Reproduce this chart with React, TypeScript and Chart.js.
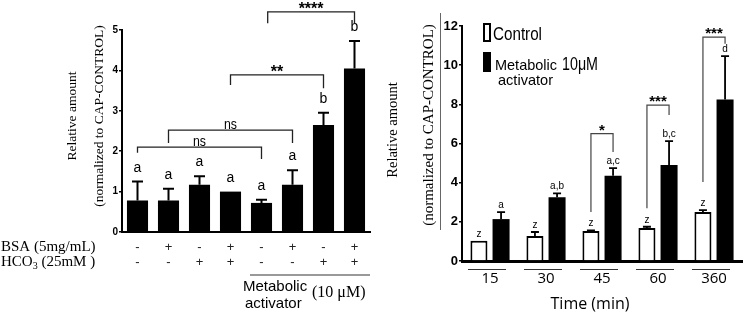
import React, { useEffect, useRef } from 'react';
import { Chart, registerables } from 'chart.js';
Chart.register(...registerables);

const SANS = "'Liberation Sans', Arial, sans-serif";
const SERIF = "'Liberation Serif', 'Times New Roman', serif";
const OPEN = "'Open Sans', 'Liberation Sans', sans-serif";

// ---------- Left panel data ----------
const bsaRow = ['-', '+', '-', '+', '-', '+', '-', '+'];
const hco3Row = ['-', '-', '+', '+', '-', '-', '+', '+'];
const leftValues = [0.78, 0.78, 1.17, 1.0, 0.72, 1.17, 2.65, 4.05];
const leftErrors = [0.47, 0.29, 0.21, 0, 0.08, 0.36, 0.3, 0.68];
const leftLetters = ['a', 'a', 'a', 'a', 'a', 'a', 'b', 'b'];
const leftBrackets = [
  { from: 0, to: 4, top: 2.1, leftEnd: 1.96, rightEnd: 1.81, label: 'ns' },
  { from: 1, to: 5, top: 2.52, leftEnd: 2.2, rightEnd: 2.2, label: 'ns' },
  { from: 3, to: 6, top: 3.89, leftEnd: 3.64, rightEnd: 3.56, label: '**' },
  { from: 4.2, to: 7, top: 5.45, leftEnd: 5.17, rightEnd: 5.17, label: '****' },
];

// ---------- Right panel data ----------
const timeLabels = ['15', '30', '45', '60', '360'];
const controlValues = [1.04, 1.28, 1.53, 1.68, 2.5];
const controlErrors = [0, 0.2, 0.03, 0.07, 0.1];
const activatorValues = [2.14, 3.25, 4.35, 4.9, 8.25];
const activatorErrors = [0.36, 0.2, 0.39, 1.22, 2.21];
const controlLetters = ['z', 'z', 'z', 'z', 'z'];
const activatorLetters = ['a', 'a,b', 'a,c', 'b,c', 'd'];
const rightBrackets = [
  { group: 2, top: 6.5, leftEnd: 2.5, rightEnd: 5.57, label: '*' },
  { group: 3, top: 7.96, leftEnd: 2.7, rightEnd: 7.45, label: '***' },
  { group: 4, top: 11.43, leftEnd: 4.03, rightEnd: 11.1, label: '***' },
];

function rotatedText(ctx: any, text: string, x: number, y: number, font: string) {
  ctx.save();
  ctx.translate(x, y);
  ctx.rotate(-Math.PI / 2);
  ctx.font = font;
  ctx.fillStyle = '#000';
  ctx.textAlign = 'center';
  ctx.textBaseline = 'middle';
  ctx.fillText(text, 0, 0);
  ctx.restore();
}

const whiteBg = {
  id: 'whiteBg',
  beforeDraw(chart: any) {
    const ctx = chart.ctx;
    ctx.save();
    ctx.fillStyle = '#fff';
    ctx.fillRect(0, 0, chart.width, chart.height);
    ctx.restore();
  },
};

function errorPlugin(errs: number[][], letters: string[][], cap: number, lw: number, letterFont: string, letterGap: number) {
  return {
    id: 'errs',
    afterDatasetsDraw(chart: any) {
      const ctx = chart.ctx;
      const ys = chart.scales.y;
      chart.data.datasets.forEach((ds: any, di: number) => {
        const meta = chart.getDatasetMeta(di);
        meta.data.forEach((bar: any, i: number) => {
          const p = bar.getProps(['x', 'y'], true);
          const e = errs[di][i];
          const top = ys.getPixelForValue(ds.data[i] + e);
          ctx.save();
          ctx.strokeStyle = '#000';
          ctx.lineWidth = lw;
          if (e > 0) {
            ctx.beginPath();
            ctx.moveTo(p.x, p.y);
            ctx.lineTo(p.x, top);
            ctx.moveTo(p.x - cap / 2, top);
            ctx.lineTo(p.x + cap / 2, top);
            ctx.stroke();
          }
          ctx.fillStyle = '#000';
          ctx.font = letterFont;
          ctx.textAlign = 'center';
          ctx.textBaseline = 'alphabetic';
          ctx.fillText(letters[di][i], p.x, top - letterGap);
          ctx.restore();
        });
      });
    },
  };
}

const leftExtras = {
  id: 'leftExtras',
  afterDraw(chart: any) {
    const ctx = chart.ctx;
    const xs = chart.scales.x;
    const ys = chart.scales.y;
    rotatedText(ctx, 'Relative amount', 72.5, 116, `13.5px ${SERIF}`);
    rotatedText(ctx, '(normalized to CAP-CONTROL)', 99.5, 116, `13.5px ${SERIF}`);

    ctx.save();
    ctx.fillStyle = '#000';
    ctx.textBaseline = 'middle';
    ctx.textAlign = 'left';
    ctx.font = `15px ${SERIF}`;
    ctx.fillText('BSA (5mg/mL)', 1, 247);
    ctx.fillText('HCO', 1, 262);
    let w = ctx.measureText('HCO').width;
    ctx.font = `10px ${SERIF}`;
    ctx.fillText('3', 1 + w, 266);
    const w3 = ctx.measureText('3').width;
    ctx.font = `15px ${SERIF}`;
    ctx.fillText(' (25mM )', 1 + w + w3, 262);

    // metabolic activator bracket line
    const half = (xs.getPixelForValue(1) - xs.getPixelForValue(0)) / 2;
    ctx.strokeStyle = '#777';
    ctx.lineWidth = 1.5;
    ctx.beginPath();
    ctx.moveTo(xs.getPixelForValue(4) - half + 4, 275);
    ctx.lineTo(chart.chartArea.right, 275);
    ctx.stroke();
    ctx.font = `15px ${SANS}`;
    ctx.textBaseline = 'alphabetic';
    ctx.fillText('Metabolic', 243, 291);
    ctx.fillText('activator', 245, 308);
    ctx.font = `16px ${SERIF}`;
    ctx.fillText('(10 \u03bcM)', 312, 297);

    // significance brackets
    ctx.strokeStyle = '#222';
    ctx.lineWidth = 1.3;
    leftBrackets.forEach((b) => {
      const x1 = xs.getPixelForValue(b.from);
      const x2 = xs.getPixelForValue(b.to);
      const yt = ys.getPixelForValue(b.top);
      ctx.beginPath();
      ctx.moveTo(x1, ys.getPixelForValue(b.leftEnd));
      ctx.lineTo(x1, yt);
      ctx.lineTo(x2, yt);
      ctx.lineTo(x2, ys.getPixelForValue(b.rightEnd));
      ctx.stroke();
      ctx.textAlign = 'center';
      if (b.label === 'ns') {
        ctx.font = `14px ${SANS}`;
        ctx.fillText(b.label, (x1 + x2) / 2, yt - 1, 13);
      } else {
        ctx.font = `bold 16px ${SANS}`;
        ctx.fillText(b.label, (x1 + x2) / 2, yt + 2);
      }
    });
    ctx.restore();
  },
};

const rightExtras = {
  id: 'rightExtras',
  afterDraw(chart: any) {
    const ctx = chart.ctx;
    const xs = chart.scales.x;
    const ys = chart.scales.y;
    rotatedText(ctx, 'Relative amount', 13, 130, `14.5px ${SERIF}`);
    rotatedText(ctx, '(normalized to CAP-CONTROL)', 49, 125, `15px ${SERIF}`);

    ctx.save();
    // thin vertical rule
    ctx.strokeStyle = '#666';
    ctx.lineWidth = 1;
    ctx.beginPath();
    ctx.moveTo(60.5, 13);
    ctx.lineTo(60.5, 230);
    ctx.stroke();

    // legend
    ctx.strokeStyle = '#000';
    ctx.lineWidth = 2;
    ctx.fillStyle = '#fff';
    ctx.fillRect(104, 24, 6, 17);
    ctx.strokeRect(104, 24, 6, 17);
    ctx.fillStyle = '#000';
    ctx.fillRect(103, 52, 8, 20);
    ctx.textAlign = 'left';
    ctx.textBaseline = 'alphabetic';
    ctx.font = `18px ${SANS}`;
    ctx.fillText('Control', 113, 40, 49);
    ctx.fillText('10\u03bcM', 182, 70, 36);
    ctx.font = `15px ${SANS}`;
    ctx.fillText('Metabolic', 115, 70, 62);
    ctx.fillText('activator', 118, 85, 55);

    // group underlines
    ctx.strokeStyle = '#333';
    ctx.lineWidth = 1;
    timeLabels.forEach((_, i) => {
      const cx = xs.getPixelForValue(i);
      ctx.beginPath();
      ctx.moveTo(cx - 22, 269.5);
      ctx.lineTo(cx + 16, 269.5);
      ctx.stroke();
    });

    ctx.textAlign = 'center';
    ctx.textBaseline = 'middle';
    ctx.font = `16px ${OPEN}`;
    ctx.fillText('Time (min)', 210, 304);

    // brackets
    const m0 = chart.getDatasetMeta(0);
    const m1 = chart.getDatasetMeta(1);
    ctx.strokeStyle = '#444';
    ctx.lineWidth = 1.2;
    ctx.textBaseline = 'alphabetic';
    rightBrackets.forEach((b) => {
      const x1 = m0.data[b.group].x;
      const x2 = m1.data[b.group].x;
      const yt = ys.getPixelForValue(b.top);
      ctx.beginPath();
      ctx.moveTo(x1, ys.getPixelForValue(b.leftEnd));
      ctx.lineTo(x1, yt);
      ctx.lineTo(x2, yt);
      ctx.lineTo(x2, ys.getPixelForValue(b.rightEnd));
      ctx.stroke();
      ctx.font = `bold 15px ${SANS}`;
      ctx.fillText(b.label, (x1 + x2) / 2, yt + 1);
    });
    ctx.restore();
  },
};

export default function App() {
  const leftRef = useRef<HTMLCanvasElement>(null);
  const rightRef = useRef<HTMLCanvasElement>(null);

  useEffect(() => {
    const left = new Chart(leftRef.current as HTMLCanvasElement, {
      type: 'bar',
      data: {
        labels: bsaRow.map((b, i) => [b, hco3Row[i]]),
        datasets: [
          {
            data: leftValues,
            backgroundColor: '#000',
            borderWidth: 0,
            barPercentage: 0.68,
            categoryPercentage: 1,
          },
        ],
      },
      options: {
        responsive: false,
        animation: false,
        layout: { padding: { left: 0, right: 10, top: 30, bottom: 0 } },
        plugins: { legend: { display: false }, tooltip: { enabled: false } },
        scales: {
          x: {
            grid: { display: false, drawTicks: false },
            border: { display: true, color: '#000', width: 2 },
            ticks: {
              font: { size: 13, family: SANS, lineHeight: 15 / 13 },
              color: '#222',
              padding: 8,
              maxRotation: 0,
              autoSkip: false,
            },
            afterFit: (s: any) => {
              s.height = 100;
            },
          },
          y: {
            min: 0,
            max: 5,
            ticks: {
              stepSize: 1,
              font: { size: 10, weight: 'bold', family: SANS },
              color: '#000',
              padding: 1,
            },
            grid: { drawOnChartArea: false, drawTicks: true, tickLength: 3, color: '#000', lineWidth: 1.5 },
            border: { display: true, color: '#000', width: 2 },
            afterFit: (s: any) => {
              s.width = 122;
            },
          },
        },
      },
      plugins: [
        whiteBg,
        errorPlugin([leftErrors], [leftLetters], 11, 2, `14px ${SANS}`, 10),
        leftExtras,
      ],
    } as any);

    const right = new Chart(rightRef.current as HTMLCanvasElement, {
      type: 'bar',
      data: {
        labels: timeLabels,
        datasets: [
          {
            label: 'Control',
            data: controlValues,
            backgroundColor: '#fff',
            borderColor: '#000',
            borderWidth: 2,
            borderSkipped: 'bottom',
            barPercentage: 0.77,
            categoryPercentage: 0.79,
          },
          {
            label: 'Metabolic activator 10\u03bcM',
            data: activatorValues,
            backgroundColor: '#000',
            borderWidth: 0,
            barPercentage: 0.77,
            categoryPercentage: 0.79,
          },
        ],
      },
      options: {
        responsive: false,
        animation: false,
        layout: { padding: { left: 0, right: 4, top: 26, bottom: 0 } },
        plugins: { legend: { display: false }, tooltip: { enabled: false } },
        scales: {
          x: {
            grid: { display: false, drawTicks: false },
            border: { display: true, color: '#000', width: 3 },
            ticks: { font: { size: 15, family: OPEN }, color: '#000', padding: 9, maxRotation: 0, autoSkip: false },
            afterFit: (s: any) => {
              s.height = 71;
            },
          },
          y: {
            min: 0,
            max: 12,
            ticks: {
              stepSize: 2,
              font: { size: 13, weight: 'bold', family: SANS },
              color: '#000',
              padding: 1,
            },
            grid: { drawOnChartArea: false, drawTicks: true, tickLength: 3, color: '#000', lineWidth: 1.5 },
            border: { display: true, color: '#000', width: 2 },
            afterFit: (s: any) => {
              s.width = 82;
            },
          },
        },
      },
      plugins: [
        whiteBg,
        errorPlugin([controlErrors, activatorErrors], [controlLetters, activatorLetters], 8, 1.8, `10px ${SANS}`, 4),
        rightExtras,
      ],
    } as any);

    return () => {
      left.destroy();
      right.destroy();
    };
  }, []);

  return (
    <div style={{ position: 'fixed', left: 0, top: 0, width: 746, height: 332, background: '#fff' }}>
      <canvas ref={leftRef} width={380} height={332} style={{ position: 'absolute', left: 0, top: 0 }} />
      <canvas ref={rightRef} width={366} height={332} style={{ position: 'absolute', left: 380, top: 0 }} />
    </div>
  );
}
